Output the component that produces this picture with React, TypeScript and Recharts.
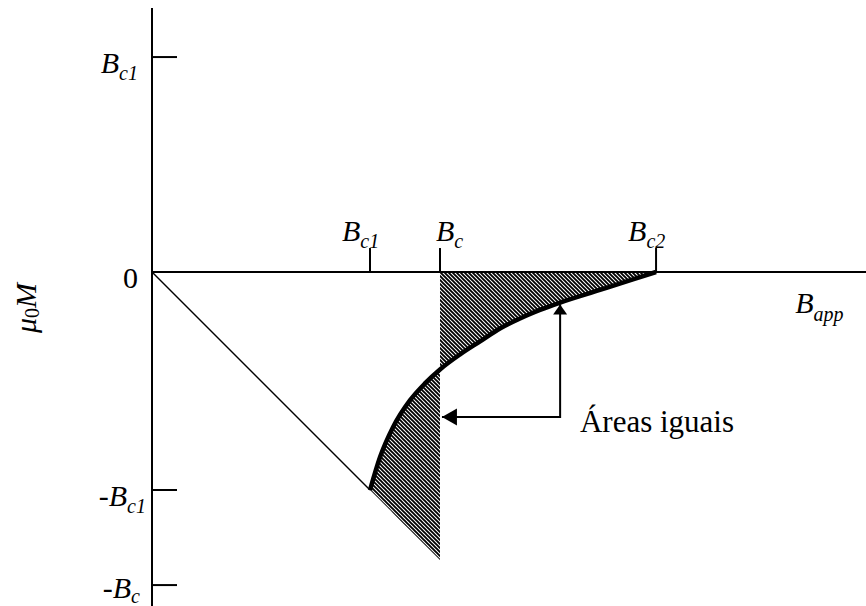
import React from "react";
import { ComposedChart, Line, Area, XAxis, YAxis, ReferenceLine, ReferenceDot } from "recharts";

const FONT = "Liberation Serif, Times New Roman, DejaVu Serif, serif";

// field values in units of Bc1
const B_C1 = 1.0;
const B_C = 1.321;
const B_C2 = 2.312;

// reversible magnetization in the mixed state, Bc1 -> Bc2
const curveB = [1.0, 1.046, 1.106, 1.183, 1.252, 1.321, 1.413, 1.505, 1.596, 1.688, 1.78, 1.872, 2.055, 2.206, 2.312];
const curveM = [-1.0, -0.849, -0.711, -0.589, -0.511, -0.447, -0.378, -0.318, -0.259, -0.213, -0.174, -0.14, -0.082, -0.034, 0];

// Meissner state line
const meissnerB = [0, 1.0];
const meissnerM = [0, -1.0];

// continuation of the Meissner line up to Bc (lower edge of the left shaded region)
const meissnerExtM = [-1.0, -1.046, -1.106, -1.183, -1.252, -1.321];

const xTickValues = [B_C1, B_C, B_C2];
const xTickSubs = ["c1", "c", "c2"];

const yTickValues = [0.986, 0, -1.0, -1.436];
const yTickLabels = [
  { minus: false, sub: "c1" },
  { zero: true },
  { minus: true, sub: "c1" },
  { minus: true, sub: "c" },
];

// "Áreas iguais" pointer: left tip -> corner -> upper tip
const arrowB = [1.33, 1.872, 1.872];
const arrowM = [-0.665, -0.665, -0.149];

const curveData = curveB.map((b, i) => ({ B: b, M: curveM[i] }));
const meissnerData = meissnerB.map((b, i) => ({ B: b, M: meissnerM[i] }));
const lowerBand = curveB
  .map((b, i) => ({ B: b, band: [meissnerExtM[i], curveM[i]] }))
  .filter((d) => d.B <= B_C);
const upperBand = curveB
  .map((b, i) => ({ B: b, band: [curveM[i], 0] }))
  .filter((d) => d.B >= B_C);
const arrowData = arrowB.map((b, i) => ({ B: b, M: arrowM[i] }));

const xLabelShift = [-28, -4, -28];
const yLabelShift = [-14, -14, -6, -12];
const yLabelDrop = [16, 16, 16, 13];

function FieldLabel({ x, y, sub, minus = false, anchor = "start", subDrop = 7 }: any) {
  return (
    <text
      x={x}
      y={y}
      textAnchor={anchor}
      fontFamily={FONT}
      style={{ fontFamily: FONT }}
      fontSize={30}
      fill="#000"
    >
      {minus ? "-" : null}
      <tspan fontStyle="italic">B</tspan>
      <tspan fontStyle="italic" fontSize={20} dy={subDrop}>
        {sub}
      </tspan>
    </text>
  );
}

function YTick(props: any) {
  const { x, y, payload } = props;
  const i = yTickValues.indexOf(payload.value);
  const lab = yTickLabels[i] || {};
  const tx = x + (yLabelShift[i] ?? -10);
  const ty = y + (yLabelDrop[i] ?? 16);
  return (
    <g>
      {lab.zero ? null : <line x1={x} x2={x + 25} y1={y} y2={y} stroke="#000" strokeWidth={2} />}
      {lab.zero ? (
        <text x={tx} y={ty} textAnchor="end" fontFamily={FONT} style={{ fontFamily: FONT }} fontSize={30} fill="#000">
          0
        </text>
      ) : (
        <FieldLabel x={tx} y={ty} sub={lab.sub} minus={lab.minus} anchor="end" subDrop={i === 3 ? 5 : 7} />
      )}
    </g>
  );
}

function ArrowHead(props: any) {
  const { cx, cy, index } = props;
  if (index === 0) {
    return <path key="head-left" d={`M${cx},${cy} L${cx + 15},${cy - 8.5} L${cx + 15},${cy + 8.5} Z`} fill="#000" />;
  }
  if (index === arrowData.length - 1) {
    return <path key="head-up" d={`M${cx},${cy} L${cx - 7},${cy + 10} L${cx + 7},${cy + 10} Z`} fill="#000" />;
  }
  return <g key={`none-${index}`} />;
}

export default function App() {
  return (
    <div style={{ position: "absolute", left: 0, top: 0, width: 866, height: 606, background: "#fff" }}>
      <ComposedChart width={866} height={606} margin={{ top: 8, right: 0, bottom: 0, left: 0 }}>
        <defs>
          <pattern id="hatch" width="4" height="4" patternUnits="userSpaceOnUse">
            <path d="M-1,3 l2,2 M0,0 l4,4 M3,-1 l2,2" stroke="#000" strokeWidth={1.9} />
          </pattern>
        </defs>
        <XAxis dataKey="B" type="number" domain={[0, 3.275]} allowDataOverflow hide />
        <YAxis
          type="number"
          domain={[-1.532, 1.211]}
          allowDataOverflow
          width={152}
          ticks={yTickValues}
          interval={0}
          tickSize={0}
          tickMargin={0}
          tickLine={false}
          axisLine={{ stroke: "#000", strokeWidth: 2 }}
          tick={<YTick />}
          label={{
            content: (p: any) => {
              const vb = p.viewBox || { x: 0, y: 8 };
              const cx = vb.x + 36;
              const cy = vb.y + 300;
              return (
                <text
                  x={cx}
                  y={cy}
                  transform={`rotate(-90 ${cx} ${cy})`}
                  textAnchor="middle"
                  fontFamily={FONT}
                  style={{ fontFamily: FONT }}
                  fontSize={30}
                  fill="#000"
                >
                  <tspan fontStyle="italic">μ</tspan>
                  <tspan fontSize={20} dy={3}>0</tspan>
                  <tspan fontStyle="italic" dy={-3}>M</tspan>
                </text>
              );
            },
          }}
        />
        <ReferenceLine y={0} stroke="#000" strokeWidth={2} />
        {xTickValues.map((v, i) => (
          <ReferenceLine
            key={`xt-${i}`}
            segment={[{ x: v, y: 0 }, { x: v, y: 0.11 }]}
            stroke="#000"
            strokeWidth={2}
            label={{
              content: (p: any) => {
                const vb = p.viewBox || { x: 0, y: 0 };
                return <FieldLabel x={vb.x + xLabelShift[i]} y={vb.y - 7} sub={xTickSubs[i]} />;
              },
            }}
          />
        ))}
        <Area
          data={upperBand}
          dataKey="band"
          type="monotone"
          fill="url(#hatch)"
          fillOpacity={1}
          stroke="none"
          isAnimationActive={false}
        />
        <Area
          data={lowerBand}
          dataKey="band"
          type="monotone"
          fill="url(#hatch)"
          fillOpacity={1}
          stroke="none"
          isAnimationActive={false}
        />
        <Line
          data={meissnerData}
          dataKey="M"
          type="linear"
          stroke="#000"
          strokeWidth={1.5}
          dot={false}
          isAnimationActive={false}
        />
        <Line
          data={curveData}
          dataKey="M"
          type="monotone"
          stroke="#000"
          strokeWidth={4.5}
          dot={false}
          isAnimationActive={false}
        />
        <Line
          data={arrowData}
          dataKey="M"
          type="linear"
          stroke="#000"
          strokeWidth={2}
          dot={<ArrowHead />}
          isAnimationActive={false}
        />
        <ReferenceDot
          x={2.95}
          y={-0.188}
          r={0}
          fill="none"
          stroke="none"
          label={{ content: (p: any) => <FieldLabel x={p.viewBox.x} y={p.viewBox.y} sub="app" subDrop={8} /> }}
        />
        <ReferenceDot
          x={1.963}
          y={-0.734}
          r={0}
          fill="none"
          stroke="none"
          label={{
            content: (p: any) => (
              <text
                x={p.viewBox.x}
                y={p.viewBox.y}
                fontFamily={FONT}
                style={{ fontFamily: FONT }}
                fontSize={31}
                fill="#000"
              >
                Áreas iguais
              </text>
            ),
          }}
        />
      </ComposedChart>
    </div>
  );
}
